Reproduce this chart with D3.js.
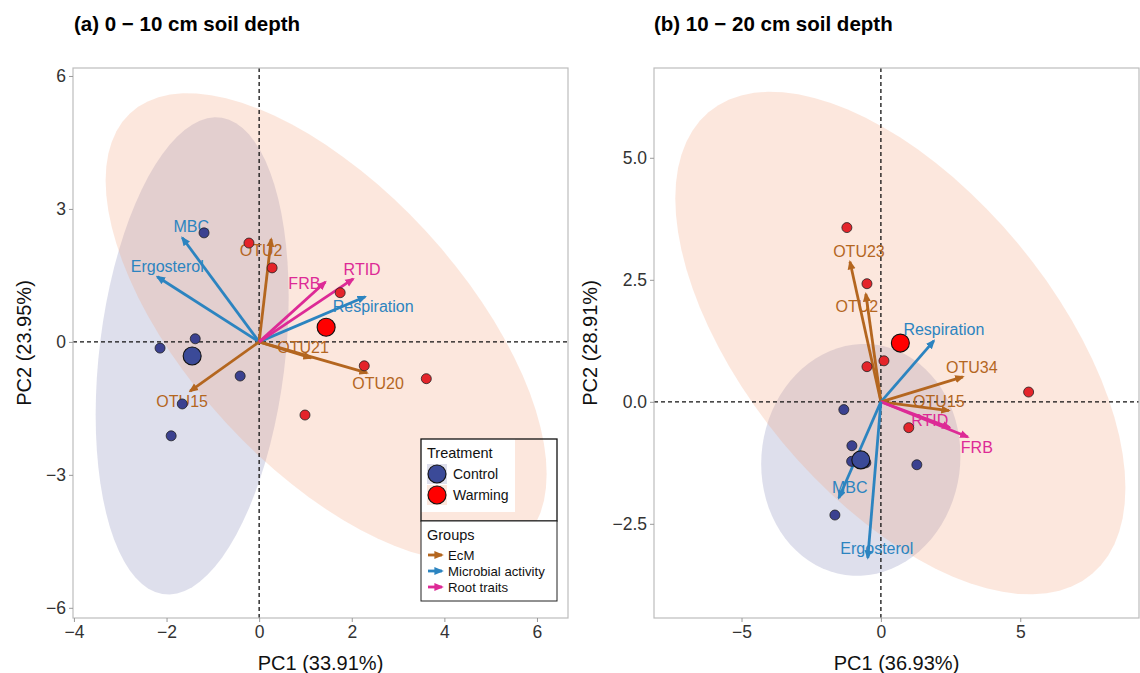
<!DOCTYPE html>
<html>
<head>
<meta charset="utf-8">
<script src="https://cdn.jsdelivr.net/npm/d3@7"></script>
<style>
  body { margin: 0; background: #fff; }
  text { font-family: "Liberation Sans", Arial, sans-serif; }
</style>
</head>
<body>
<div id="chart"></div>
<script>
var width = 1140;
var height = 673;

// ---- data: panel (a) 0-10 cm ----
var controlA = [[-1.19, 2.46], [-1.38, 0.07], [-2.14, -0.14], [-0.41, -0.77], [-1.66, -1.40], [-1.90, -2.12]];
var warmingA = [[-0.22, 2.23], [0.28, 1.67], [1.75, 1.11], [2.27, -0.54], [3.61, -0.83], [0.99, -1.65]];
var varNamesA = ["MBC", "Ergosterol", "Respiration", "OTU2", "OTU21", "OTU20", "OTU15", "FRB", "RTID"];
var varGroupsA = ["Microbial activity", "Microbial activity", "Microbial activity", "EcM", "EcM", "EcM", "EcM", "Root traits", "Root traits"];
var loadXA = [-1.66, -2.20, 2.29, 0.26, 1.12, 2.33, -1.49, 1.43, 2.03];
var loadYA = [2.35, 1.47, 1.02, 2.32, -0.36, -0.70, -1.11, 1.35, 1.42];

// ---- data: panel (b) 10-20 cm ----
var controlB = [[-1.33, -0.16], [-1.04, -0.90], [-1.05, -1.22], [-0.54, -1.25], [1.29, -1.29], [-1.65, -2.32]];
var warmingB = [[-1.22, 3.57], [-0.50, 2.42], [0.11, 0.84], [-0.50, 0.72], [5.30, 0.20], [1.00, -0.53]];
var varNamesB = ["OTU23", "OTU2", "Respiration", "OTU34", "OTU15", "RTID", "FRB", "MBC", "Ergosterol"];
var varGroupsB = ["EcM", "EcM", "Microbial activity", "EcM", "EcM", "Root traits", "Root traits", "Microbial activity", "Microbial activity"];
var loadXB = [-1.11, -0.54, 1.90, 2.94, 2.44, 2.47, 3.12, -1.51, -0.47];
var loadYB = [2.87, 2.21, 1.25, 0.51, -0.18, -0.53, -0.72, -1.97, -3.20];

var treatments = ["Control", "Warming"];
var groups = ["EcM", "Microbial activity", "Root traits"];
var ticksXA = [-4, -2, 0, 2, 4, 6];
var ticksYA = [-6, -3, 0, 3, 6];
var ticksXB = [-5, 0, 5];
var ticksYB = [-2.5, 0, 2.5, 5];

// ---- styling / layout ----
var groupColor = { "EcM": "#b4661f", "Microbial activity": "#2c84c0", "Root traits": "#dd2a96" };
var ellipseFill = { "Control": "rgba(60,65,145,0.17)", "Warming": "rgba(245,160,120,0.25)" };
var pointFill = { "Control": "#3b4190", "Warming": "#e4242a" };
var meanFill = { "Control": "#3b4a98", "Warming": "#ff0000" };

// label nudges (px) mimic the repelled labels
var nudgeA = [[9, -11], [10, -10], [8, 10], [-10, 11], [-8, -10], [11, 10], [-8, 10], [-21, 1], [9, -10]];
var nudgeB = [[9, -10], [-9, 12], [10, -11], [9, -10], [-10, -9], [-20, -7], [9, 10], [11, -11], [9, -10]];

var svg = d3.select("#chart").append("svg")
  .attr("width", width)
  .attr("height", height)
  .style("background-color", "white");

var defs = svg.append("defs");
groups.forEach(function (g, i) {
  defs.append("marker")
    .attr("id", "head" + i)
    .attr("viewBox", "0 0 10 10")
    .attr("refX", 8)
    .attr("refY", 5)
    .attr("markerWidth", 9.5)
    .attr("markerHeight", 9.5)
    .attr("markerUnits", "userSpaceOnUse")
    .attr("orient", "auto")
    .append("path")
    .attr("d", "M0,0.8 L10,5 L0,9.2 Z")
    .attr("fill", groupColor[g]);
});

var fmtMinus = function (v) { return String(v).replace("-", "\u2212"); };

function ellipsePath(pts, xs, ys) {
  // normal-theory 95% data ellipse, same as stat_ellipse(type = "norm")
  var n = pts.length;
  var mx = d3.mean(pts, function (d) { return d[0]; });
  var my = d3.mean(pts, function (d) { return d[1]; });
  var sxx = d3.sum(pts, function (d) { return (d[0] - mx) * (d[0] - mx); }) / (n - 1);
  var syy = d3.sum(pts, function (d) { return (d[1] - my) * (d[1] - my); }) / (n - 1);
  var sxy = d3.sum(pts, function (d) { return (d[0] - mx) * (d[1] - my); }) / (n - 1);
  var dfd = n - 1;
  var fq = dfd / 2 * (Math.pow(0.05, -2 / dfd) - 1);
  var r = Math.sqrt(2 * fq);
  var r11 = Math.sqrt(sxx), r12 = sxy / r11, r22 = Math.sqrt(syy - r12 * r12);
  var ring = d3.range(0, 80).map(function (i) {
    var t = i / 80 * 2 * Math.PI, c = Math.cos(t), s = Math.sin(t);
    return [xs(mx + r * c * r11), ys(my + r * (c * r12 + s * r22))];
  });
  return d3.line().curve(d3.curveLinearClosed)(ring);
}

function drawPanel(p) {
  var xs = d3.scaleLinear().domain(p.xDom).range([p.left, p.right]);
  var ys = d3.scaleLinear().domain(p.yDom).range([p.bottom, p.top]);
  var g = svg.append("g");

  g.append("clipPath").attr("id", "clip" + p.id)
    .append("rect")
    .attr("x", p.left).attr("y", p.top)
    .attr("width", p.right - p.left).attr("height", p.bottom - p.top);

  var inner = g.append("g").attr("clip-path", "url(#clip" + p.id + ")");

  // ellipses
  [p.control, p.warming].forEach(function (pts, i) {
    inner.append("path")
      .attr("d", ellipsePath(pts, xs, ys))
      .attr("fill", ellipseFill[treatments[i]]);
  });

  // zero lines
  inner.append("line")
    .attr("x1", xs(0)).attr("x2", xs(0)).attr("y1", p.top).attr("y2", p.bottom)
    .attr("stroke", "#111").attr("stroke-width", 1.3).attr("stroke-dasharray", "4,3");
  inner.append("line")
    .attr("x1", p.left).attr("x2", p.right).attr("y1", ys(0)).attr("y2", ys(0))
    .attr("stroke", "#111").attr("stroke-width", 1.3).attr("stroke-dasharray", "4,3");

  // loadings arrows
  var vars = p.names.map(function (n, i) {
    return { name: n, group: p.groups[i], x: p.lx[i], y: p.ly[i], nudge: p.nudge[i] };
  });
  inner.selectAll(".arrow")
    .data(vars)
    .join("line")
    .attr("class", "arrow")
    .attr("x1", xs(0)).attr("y1", ys(0))
    .attr("x2", function (d) { return xs(d.x); })
    .attr("y2", function (d) { return ys(d.y); })
    .attr("stroke", function (d) { return groupColor[d.group]; })
    .attr("stroke-width", 2.8)
    .attr("marker-end", function (d) { return "url(#head" + groups.indexOf(d.group) + ")"; });

  inner.selectAll(".vlabel")
    .data(vars)
    .join("text")
    .attr("class", "vlabel")
    .attr("x", function (d) { return xs(d.x) + d.nudge[0]; })
    .attr("y", function (d) { return ys(d.y) + d.nudge[1]; })
    .attr("dy", "0.35em")
    .attr("text-anchor", "middle")
    .attr("font-size", 16)
    .attr("fill", function (d) { return groupColor[d.group]; })
    .text(function (d) { return d.name; });

  // sample points
  [p.control, p.warming].forEach(function (pts, i) {
    var t = treatments[i];
    inner.selectAll(".pt" + t)
      .data(pts)
      .join("circle")
      .attr("cx", function (d) { return xs(d[0]); })
      .attr("cy", function (d) { return ys(d[1]); })
      .attr("r", 5)
      .attr("fill", pointFill[t])
      .attr("stroke", "#222")
      .attr("stroke-width", 0.8);
    inner.append("circle")
      .attr("cx", xs(d3.mean(pts, function (d) { return d[0]; })))
      .attr("cy", ys(d3.mean(pts, function (d) { return d[1]; })))
      .attr("r", 9)
      .attr("fill", meanFill[t])
      .attr("stroke", "#111")
      .attr("stroke-width", 1.1);
  });

  // frame
  g.append("rect")
    .attr("x", p.left).attr("y", p.top)
    .attr("width", p.right - p.left).attr("height", p.bottom - p.top)
    .attr("fill", "none").attr("stroke", "#bdbdbd").attr("stroke-width", 1.2);

  // axes
  var xAxis = g.append("g").attr("transform", "translate(0," + p.bottom + ")")
    .call(d3.axisBottom(xs).tickValues(p.xTicks).tickSize(4).tickPadding(4)
      .tickFormat(p.xFmt));
  var yAxis = g.append("g").attr("transform", "translate(" + p.left + ",0)")
    .call(d3.axisLeft(ys).tickValues(p.yTicks).tickSize(4).tickPadding(3)
      .tickFormat(p.yFmt));
  [xAxis, yAxis].forEach(function (ax) {
    ax.select(".domain").remove();
    ax.selectAll(".tick line").attr("stroke", "#999");
    ax.selectAll(".tick text")
      .attr("fill", "#333")
      .attr("font-size", 17.5)
      .attr("font-family", "'Liberation Sans', Arial, sans-serif");
  });

  g.append("text")
    .attr("x", (p.left + p.right) / 2).attr("y", 670)
    .attr("text-anchor", "middle").attr("font-size", 20).attr("fill", "#111")
    .text(p.xTitle);
  g.append("text")
    .attr("transform", "translate(" + p.yTitleX + "," + (p.top + p.bottom) / 2 + ") rotate(-90)")
    .attr("text-anchor", "middle").attr("font-size", 20).attr("fill", "#111")
    .text(p.yTitle);

  g.append("text")
    .attr("x", p.titleX).attr("y", 31)
    .attr("font-size", 20.5).attr("font-weight", "bold").attr("fill", "#000")
    .text(p.title);
}

drawPanel({
  id: "a", left: 73, right: 568, top: 68, bottom: 618,
  xDom: [-4.02, 6.67], yDom: [-6.23, 6.18],
  control: controlA, warming: warmingA,
  names: varNamesA, groups: varGroupsA, lx: loadXA, ly: loadYA, nudge: nudgeA,
  xTicks: ticksXA, yTicks: ticksYA, xFmt: fmtMinus, yFmt: fmtMinus,
  xTitle: "PC1 (33.91%)", yTitle: "PC2 (23.95%)", yTitleX: 31,
  title: "(a) 0 \u2212 10 cm soil depth", titleX: 74
});

drawPanel({
  id: "b", left: 654, right: 1139, top: 68, bottom: 618,
  xDom: [-8.14, 9.26], yDom: [-4.43, 6.84],
  control: controlB, warming: warmingB,
  names: varNamesB, groups: varGroupsB, lx: loadXB, ly: loadYB, nudge: nudgeB,
  xTicks: ticksXB, yTicks: ticksYB, xFmt: fmtMinus,
  yFmt: function (v) { return d3.format(".1f")(v); },
  xTitle: "PC1 (36.93%)", yTitle: "PC2 (28.91%)", yTitleX: 597,
  title: "(b) 10 \u2212 20 cm soil depth", titleX: 654
});

// ---- legend (inside panel a) ----
var leg = svg.append("g");
leg.append("rect").attr("x", 421).attr("y", 439).attr("width", 94).attr("height", 73).attr("fill", "white");
leg.append("rect").attr("x", 421).attr("y", 439).attr("width", 136).attr("height", 82)
  .attr("fill", "none").attr("stroke", "#111").attr("stroke-width", 1.3);
leg.append("text").attr("x", 427).attr("y", 458).attr("font-size", 14.5).attr("fill", "#111").text("Treatment");

treatments.forEach(function (t, i) {
  var y0 = 464 + i * 21;
  leg.append("rect").attr("x", 427).attr("y", y0).attr("width", 20).attr("height", 20).attr("fill", ellipseFill[t]);
  leg.append("circle").attr("cx", 437).attr("cy", y0 + 10).attr("r", 9)
    .attr("fill", meanFill[t]).attr("stroke", "#111").attr("stroke-width", 1.1);
  leg.append("text").attr("x", 453).attr("y", y0 + 15).attr("font-size", 14).attr("fill", "#111").text(t);
});

leg.append("rect").attr("x", 421).attr("y", 521).attr("width", 136).attr("height", 80)
  .attr("fill", "white").attr("stroke", "#222").attr("stroke-width", 1);
leg.append("text").attr("x", 427).attr("y", 540).attr("font-size", 14.5).attr("fill", "#111").text("Groups");
groups.forEach(function (gname, i) {
  var yc = 555 + i * 16;
  leg.append("line").attr("x1", 428).attr("x2", 442).attr("y1", yc).attr("y2", yc)
    .attr("stroke", groupColor[gname]).attr("stroke-width", 2.8)
    .attr("marker-end", "url(#head" + i + ")");
  leg.append("text").attr("x", 448).attr("y", yc + 5).attr("font-size", 13.2).attr("fill", "#111").text(gname);
});
</script>
</body>
</html>
